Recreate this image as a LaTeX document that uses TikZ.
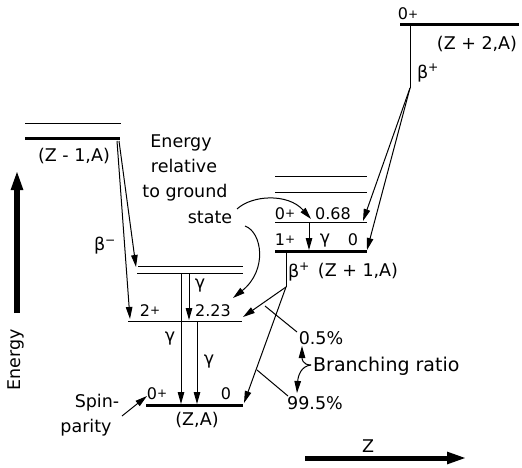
\documentclass[tikz,border=0pt]{standalone}
\usepackage{fontspec}
\setmainfont{DejaVu Sans}
\usetikzlibrary{arrows.meta}
\newcommand\pl{\raisebox{0.2ex}{\fontsize{12}{12}\selectfont +}}
\begin{document}
\begin{tikzpicture}[x=1pt,y=-1pt,
  lev/.style={line width=1pt},
  glev/.style={line width=3pt},
  thin/.style={line width=1pt},
  arr/.style={line width=1pt,-{Triangle[length=12pt,width=6.5pt]}},
  lbl/.style={font=\fontsize{17.5}{20}\selectfont, inner sep=0pt},
  num/.style={font=\fontsize{16}{19}\selectfont, inner sep=0pt},
  bigarr/.style={-{Triangle[length=20pt,width=11pt]}}]
\useasboundingbox (0,0) rectangle (522,468);

% ---------- level coordinates ----------
\coordinate (a1L) at (25,124);  \coordinate (a1R) at (121,124);
\coordinate (a0L) at (25,139);  \coordinate (a0R) at (120,139);
\coordinate (i1L) at (138,266); \coordinate (i1R) at (243,266);
\coordinate (i2L) at (137,273); \coordinate (i2R) at (243,273);
\coordinate (tL)  at (128,321); \coordinate (tR)  at (242,321);
\coordinate (gL)  at (146,405); \coordinate (gR)  at (243,405);
\coordinate (b1L) at (275,176); \coordinate (b1R) at (367,176);
\coordinate (b2L) at (275,192); \coordinate (b2R) at (367,192);
\coordinate (eL)  at (275,222); \coordinate (eR)  at (367,222);
\coordinate (hL)  at (275,251); \coordinate (hR)  at (367,251);
\coordinate (cL)  at (400,25);  \coordinate (cR)  at (519,25);

% ---------- levels ----------
\draw[lev]  (a1L) -- (a1R);
\draw[glev] (a0L) -- (a0R);
\draw[lev]  (i1L) -- (i1R);
\draw[lev]  (i2L) -- (i2R);
\draw[lev]  (tL) -- (tR);
\draw[glev] (gL) -- (gR);
\draw[lev]  (b1L) -- (b1R);
\draw[lev]  (b2L) -- (b2R);
\draw[lev]  (eL) -- (eR);
\draw[glev] (hL) -- (hR);
\draw[glev] (cL) -- (cR);

% ---------- beta minus from (Z-1,A) ----------
\coordinate (bmA) at (119,141);
\coordinate (bmB) at (117,141);
\coordinate (tipA) at (136,267);
\coordinate (tipB) at (130,319);
\draw[arr] (bmA) -- (tipA);
\draw[arr] (bmB) -- (tipB);

% ---------- gamma transitions in (Z,A) ----------
\coordinate (g1t) at (181,273); \coordinate (g1b) at (181,404);
\coordinate (g2t) at (189,273); \coordinate (g2b) at (189,320);
\coordinate (g3t) at (197,321); \coordinate (g3b) at (197,404);
\draw[arr] (g1t) -- (g1b);
\draw[arr] (g2t) -- (g2b);
\draw[arr] (g3t) -- (g3b);

% ---------- gamma in (Z+1,A) ----------
\coordinate (gz1t) at (309,222); \coordinate (gz1b) at (309,250);
\draw[arr] (gz1t) -- (gz1b);

% ---------- beta plus from (Z+2,A) ----------
\coordinate (cb) at (410,25); \coordinate (ck) at (410,88);
\coordinate (ctA) at (363,221); \coordinate (ctB) at (367,250);
\draw[thin] (cb) -- (ck);
\draw[arr] (ck) -- (ctA);
\draw[arr] (ck) -- (ctB);

% ---------- beta plus from (Z+1,A) ----------
\coordinate (hb) at (286,251); \coordinate (hk) at (286,287);
\coordinate (htA) at (243,317); \coordinate (htB) at (244,403);
\draw[thin] (hb) -- (hk);
\draw[arr] (hk) -- (htA);
\draw[arr] (hk) -- (htB);

% ---------- labels ----------
\node[lbl] (zm1) at (74,156) {(Z - 1,A)};
\node[lbl] (bmlab) at (105,246) {β\textsuperscript{−}};
\node[num,anchor=base] (l2p) at (150,316) {2\pl};
\node[num,anchor=base] (l223) at (213,316) {2.23};
\node[lbl] (gam1) at (200,286) {γ};
\node[lbl] (gam2) at (170,339) {γ};
\node[lbl] (gam3) at (209,362) {γ};
\node[num,anchor=base] (l0p) at (157,399) {0\pl};
\node[num,anchor=base] (l0) at (226,399) {0};
\node[lbl] (zA) at (197,420) {(Z,A)};

\node[num,anchor=base] (e0p) at (285,219) {0\pl};
\node[num,anchor=base] (e068) at (333,219) {0.68};
\node[num,anchor=base] (h1p) at (285,245) {1\pl};
\node[lbl] (hgam) at (325,241) {γ};
\node[num,anchor=base] (h0) at (353,245) {0};
\node[lbl] (hbp) at (299,272) {β\textsuperscript{+}};
\node[lbl] (zp1) at (358,271) {(Z + 1,A)};

\node[num,anchor=base] (c0p) at (408,20) {0\pl};
\node[lbl] (zp2) at (477,44) {(Z + 2,A)};
\node[lbl] (cbp) at (428,73) {β\textsuperscript{+}};

\node[lbl,anchor=base] (t1) at (181,147) {Energy};
\node[lbl,anchor=base] (t2) at (184,172) {relative};
\node[lbl,anchor=base] (t3) at (185,197) {to ground};
\node[lbl,anchor=base] (t4) at (210,223) {state};

\coordinate (s1) at (237,209); \coordinate (s1t) at (311,219);
\draw[arr] (s1) .. controls (252,195) and (288,193) .. (s1t);
\coordinate (s2) at (245,226); \coordinate (s2t) at (233,298);
\draw[arr] (s2) .. controls (262,232) and (268,270) .. (s2t);

\node[lbl] (p05) at (321,338) {0.5\%};
\node[lbl] (p995) at (315,403) {99.5\%};
\coordinate (q1) at (265,306); \coordinate (q1e) at (297,332);
\coordinate (q2) at (257,370); \coordinate (q2e) at (288,396);
\draw[thin] (q1) -- (q1e);
\draw[thin] (q2) -- (q2e);

\node[lbl,anchor=west,font=\fontsize{19}{22}\selectfont] (br) at (313,366) {Branching ratio};
\coordinate (bk) at (311,365);
\coordinate (bkA) at (302,346); \coordinate (bkB) at (297,393);
\draw[arr] (bk) .. controls (302,365) and (302,358) .. (bkA);
\draw[arr] (bk) .. controls (301,366) and (298,376) .. (bkB);

\node[lbl,anchor=base] (sp1) at (97,407) {Spin-};
\node[lbl,anchor=base] (sp2) at (86,432) {parity};
\coordinate (spa) at (122,416); \coordinate (spb) at (147,396);
\draw[arr] (spa) -- (spb);

% ---------- axes ----------
\coordinate (ea) at (17,313); \coordinate (eb) at (17,170);
\draw[line width=6pt,bigarr] (ea) -- (eb);
\node[lbl,rotate=90] (en) at (16,360) {Energy};
\coordinate (za) at (305,458); \coordinate (zb) at (467,458);
\draw[line width=5pt,bigarr] (za) -- (zb);
\node[lbl] (zl) at (368,446) {Z};
\end{tikzpicture}
\end{document}
